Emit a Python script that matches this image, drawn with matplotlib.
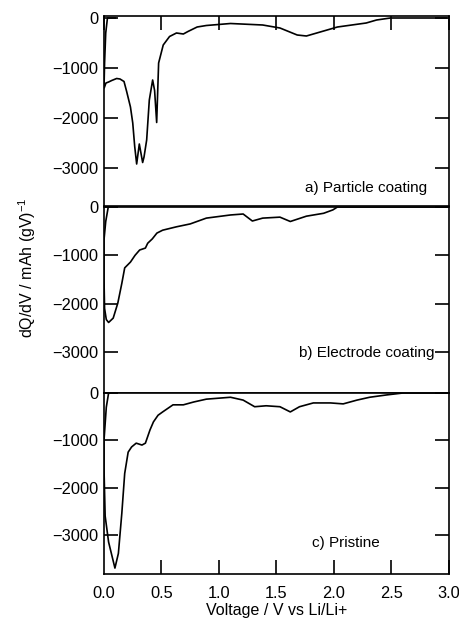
import matplotlib
matplotlib.use("Agg")
import matplotlib.pyplot as plt

plt.rcParams['font.family'] = ['Liberation Sans', 'DejaVu Sans']
plt.rcParams['mathtext.fontset'] = 'custom'
plt.rcParams['mathtext.rm'] = 'Liberation Sans'
plt.rcParams['font.size'] = 11

# a) Particle coating
volt_a = [2.98, 2.49, 2.37, 2.28, 2.03, 1.88, 1.76, 1.68, 1.53, 1.38, 1.10, 0.89, 0.81,
          0.73, 0.69, 0.63, 0.57, 0.515, 0.475, 0.458, 0.44, 0.423, 0.394, 0.371, 0.348,
          0.336, 0.307, 0.284, 0.267, 0.25, 0.23, 0.197, 0.174, 0.139, 0.11, 0.067, 0.04,
          0.017, 0.003, 0.0, 0.005, 0.015, 0.03, 0.1]
dqdv_a = [0, 0, -40, -100, -180, -280, -360, -340, -200, -140, -110, -150, -180,
          -270, -320, -300, -370, -540, -900, -2090, -1450, -1240, -1640, -2440, -2780,
          -2890, -2520, -2920, -2570, -2100, -1780, -1470, -1270, -1220, -1210, -1250, -1280,
          -1300, -1390, -1400, -900, -300, 0, 0]

# b) Electrode coating
volt_b = [2.98, 2.03, 1.99, 1.91, 1.76, 1.62, 1.53, 1.38, 1.29, 1.21, 1.10, 0.89, 0.75,
          0.63, 0.51, 0.46, 0.42, 0.38, 0.36, 0.31, 0.27, 0.23, 0.18, 0.155, 0.12, 0.08,
          0.04, 0.02, 0.005, 0.0, 0.0, 0.015, 0.037]
dqdv_b = [0, 0, -60, -130, -190, -300, -210, -230, -290, -145, -165, -230, -350,
          -410, -480, -540, -660, -750, -850, -890, -1000, -1140, -1260, -1580, -1990, -2300,
          -2390, -2330, -2100, -1500, -680, -300, 0]

# c) Pristine
volt_c = [2.98, 2.60, 2.46, 2.31, 2.20, 2.08, 1.97, 1.82, 1.70, 1.62, 1.53, 1.41, 1.31,
          1.21, 1.10, 0.89, 0.78, 0.69, 0.60, 0.51, 0.47, 0.43, 0.40, 0.36, 0.33, 0.28,
          0.24, 0.21, 0.18, 0.155, 0.125, 0.095, 0.07, 0.04, 0.01, 0.0, 0.0, 0.02, 0.04]
dqdv_c = [0, 0, -40, -90, -150, -230, -210, -210, -290, -400, -290, -270, -290,
          -150, -90, -130, -190, -250, -250, -400, -470, -610, -780, -1060, -1100, -1060,
          -1140, -1250, -1700, -2540, -3390, -3700, -3450, -3150, -2600, -1600, -1000, -300, 0]

labels = ["a) Particle coating", "b) Electrode coating", "c) Pristine"]
yticks = [0, -1000, -2000, -3000]
xticks = [0.0, 0.5, 1.0, 1.5, 2.0, 2.5, 3.0]

fig = plt.figure(figsize=(4.6, 6.18), dpi=100)
W, H = 460, 618

def add_ax(top, bottom):
    return fig.add_axes([104 / W, 1 - bottom / H, 345 / W, (bottom - top) / H])

ax_a = add_ax(16, 206)
ax_b = add_ax(207, 393)
ax_c = add_ax(393, 574)

ax_a.plot(volt_a, dqdv_a, color='black', lw=1.2)
ax_b.plot(volt_b, dqdv_b, color='black', lw=1.2)
ax_c.plot(volt_c, dqdv_c, color='black', lw=1.2)

ax_a.set_ylim(-3760, 40)
ax_b.set_ylim(-3850, 0)
ax_c.set_ylim(-3825, 0)

for ax in (ax_a, ax_b, ax_c):
    ax.set_xlim(0, 3.0)
    ax.set_xticks(xticks)
    ax.set_yticks(yticks)
    for s in ax.spines.values():
        s.set_linewidth(1.2)
    ax.tick_params(axis='y', direction='in', length=10, width=1.2, pad=4,
                   left=True, right=True, labelsize=11.8)
    ax.tick_params(axis='x', direction='in', length=10, width=1.2, pad=9,
                   bottom=False, top=False, labelbottom=False, labelsize=11.8)

ax_a.tick_params(axis='x', top=True)
ax_c.tick_params(axis='x', bottom=True, labelbottom=True)
ax_c.xaxis.get_major_ticks()[0].tick1line.set_visible(False)

ax_a.text(2.81, -3400, labels[0], ha='right', va='center', fontsize=11)
ax_b.text(2.87, -3020, labels[1], ha='right', va='center', fontsize=11)
ax_c.text(2.10, -3170, labels[2], ha='center', va='center', fontsize=11)

ax_c.set_xlabel("Voltage / V vs Li/Li+", fontsize=11.5, labelpad=1)
fig.text(27 / W, 1 - 268 / H, "dQ/dV / mAh (gV)$^{-1}$", rotation=90,
         ha='center', va='center', fontsize=11.5)

fig.savefig("out.png", dpi=100)
